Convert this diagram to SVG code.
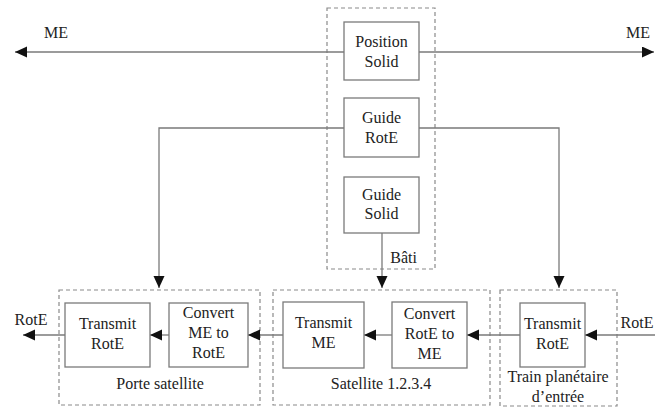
<svg xmlns="http://www.w3.org/2000/svg" width="665" height="409" viewBox="0 0 665 409" font-family="'Liberation Serif', 'Times New Roman', serif">
<defs>
<style>
.box{fill:#fff;stroke:#7a7a7a;stroke-width:1.3}
.grp{fill:none;stroke:#8a8a8a;stroke-width:1.2;stroke-dasharray:4,3}
.ln{fill:none;stroke:#7a7a7a;stroke-width:1.3}
text{font-family:'Liberation Serif','Times New Roman',Times,serif;font-size:16px;fill:#222;text-anchor:middle}
</style>
<marker id="ah" markerWidth="14" markerHeight="12" refX="12" refY="5.5" orient="auto-start-reverse" markerUnits="userSpaceOnUse">
<path d="M0,0 L12,5.5 L0,11 z" fill="#111"/>
</marker>
</defs>
<rect width="665" height="409" fill="#fff"/>

<g id="bati">
<rect class="grp" x="327" y="8" width="108" height="261"/>
<text x="417" y="263" style="text-anchor:end">Bâti</text>
</g>
<g id="porte-satellite">
<rect class="grp" x="59" y="290" width="201" height="115"/>
<text x="160" y="389">Porte satellite</text>
</g>
<g id="satellite">
<rect class="grp" x="273" y="290" width="217" height="115"/>
<text x="381" y="389">Satellite 1.2.3.4</text>
</g>
<g id="train">
<rect class="grp" x="500" y="290" width="117" height="116"/>
<text x="558" y="382">Train planétaire</text>
<text x="558" y="402">d’entrée</text>
</g>

<g id="connectors">
<line class="ln" x1="344" y1="52" x2="15" y2="52" marker-end="url(#ah)"/>
<line class="ln" x1="419" y1="52" x2="654" y2="52" marker-end="url(#ah)"/>
<polyline class="ln" points="344,128 159,128 159,288" marker-end="url(#ah)"/>
<polyline class="ln" points="419,128 559,128 559,288" marker-end="url(#ah)"/>
<line class="ln" x1="382" y1="233" x2="382" y2="288" marker-end="url(#ah)"/>
<line class="ln" x1="65" y1="335" x2="23" y2="335" marker-end="url(#ah)"/>
<line class="ln" x1="169" y1="335" x2="150" y2="335" marker-end="url(#ah)"/>
<line class="ln" x1="283" y1="335" x2="248" y2="335" marker-end="url(#ah)"/>
<line class="ln" x1="392" y1="335" x2="364" y2="335" marker-end="url(#ah)"/>
<line class="ln" x1="520" y1="335" x2="467" y2="335" marker-end="url(#ah)"/>
<line class="ln" x1="655" y1="335" x2="585" y2="335" marker-end="url(#ah)"/>
</g>

<g id="labels">
<text x="56" y="38">ME</text>
<text x="638" y="38">ME</text>
<text x="31" y="325">RotE</text>
<text x="637" y="328">RotE</text>
</g>

<g id="position-solid">
<rect class="box" x="344" y="22" width="75" height="58"/>
<text x="381.5" y="47">Position</text>
<text x="381.5" y="67">Solid</text>
</g>
<g id="guide-rote">
<rect class="box" x="344" y="98" width="75" height="59"/>
<text x="381.5" y="123">Guide</text>
<text x="381.5" y="143">RotE</text>
</g>
<g id="guide-solid">
<rect class="box" x="344" y="177" width="75" height="56"/>
<text x="381.5" y="200">Guide</text>
<text x="381.5" y="219">Solid</text>
</g>

<g id="transmit-rote-out">
<rect class="box" x="65" y="303" width="85" height="64"/>
<text x="107.5" y="329">Transmit</text>
<text x="107.5" y="349">RotE</text>
</g>
<g id="convert-me-rote">
<rect class="box" x="169" y="303" width="79" height="64"/>
<text x="208.5" y="318">Convert</text>
<text x="208.5" y="338">ME to</text>
<text x="208.5" y="358">RotE</text>
</g>
<g id="transmit-me">
<rect class="box" x="283" y="302" width="81" height="66"/>
<text x="323.5" y="328">Transmit</text>
<text x="323.5" y="348">ME</text>
</g>
<g id="convert-rote-me">
<rect class="box" x="392" y="302" width="75" height="66"/>
<text x="429.5" y="319">Convert</text>
<text x="429.5" y="339">RotE to</text>
<text x="429.5" y="359">ME</text>
</g>
<g id="transmit-rote-in">
<rect class="box" x="520" y="303" width="65" height="64"/>
<text x="552.5" y="329">Transmit</text>
<text x="552.5" y="349">RotE</text>
</g>
</svg>
